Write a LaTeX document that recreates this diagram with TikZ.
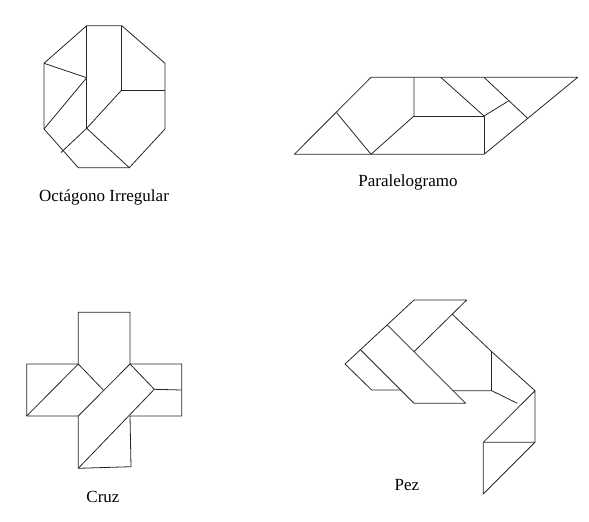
\documentclass[tikz,border=0pt]{standalone}
\usepackage{fontspec}
\setmainfont{Liberation Serif}
\usepackage{tikz}

\begin{document}
\begin{tikzpicture}[x=1pt,y=-1pt,line width=0.8pt,line join=round,draw=black!85,font=\fontsize{17}{20}\selectfont]
  \useasboundingbox (0,0) rectangle (589,522);
  % octagono
  \draw (86.7,25.7) -- (121.7,25.7) -- (165,63.3) -- (165,129) -- (129.3,167.7) -- (78.3,167.7) -- (44,129) -- (44,63.3) -- cycle;
  \draw (86.7,25.7) -- (86.7,128.3);
  \draw (121.7,25.7) -- (121.7,90) -- (165,90);
  \draw (44,63.3) -- (86.7,77.7) -- (44,129);
  \draw (121.7,90) -- (86.7,128.3) -- (129.3,167.7);
  \draw (86.7,128.3) -- (61,152.5);
  \node (octagono) at (104,197) {Octágono Irregular};
  % paralelogramo
  \draw (294.3,154.3) -- (371,77.3) -- (577.7,77.3) -- (484,154.3) -- cycle;
  \draw (336.5,112.5) -- (371,154.3) -- (414,116) -- (414,77.3);
  \draw (414,116) -- (484,116) -- (484,154.3);
  \draw (440.7,77.3) -- (484,116) -- (508.5,101);
  \draw (484,77.3) -- (527.7,118.4);
  \node (paralelogramo) at (408,182) {Paralelogramo};
  % cruz
  \draw (26.7,364) -- (78.3,364) -- (78.3,312.3) -- (130,312.3) -- (130,364) -- (181.7,364) -- (181.7,416) -- (130,416)
    -- (131,466.7) -- (78.3,468.3) -- (78.3,416) -- (26.7,416) -- cycle;
  \draw (26.7,416) -- (78.3,364) -- (103.3,390);
  \draw (78.3,416) -- (130,364) -- (154.3,389.3) -- (181.7,390);
  \draw (154.3,389.3) -- (78.3,468.3);
  \node (cruz) at (103,497) {Cruz};
  % pez
  \draw (414,300) -- (466.7,300) -- (414,351.7);
  \draw (414,300) -- (345,364) -- (371.7,390) -- (401.2,390);
  \draw (387.2,324.8) -- (465.7,403.3) -- (414,403.3) -- (360.4,349.7);
  \draw (453,390.7) -- (491.7,390.7) -- (517.3,403.3);
  \draw (452,314) -- (491.7,351.7) -- (535,390.7);
  \draw (491.7,351.7) -- (491.7,390.7);
  \draw (535,390.7) -- (535,442.3) -- (483.3,442.3) -- cycle;
  \draw (535,442.3) -- (483.3,494) -- (483.3,442.3);
  \node (pez) at (407,485) {Pez};
\end{tikzpicture}
\end{document}
